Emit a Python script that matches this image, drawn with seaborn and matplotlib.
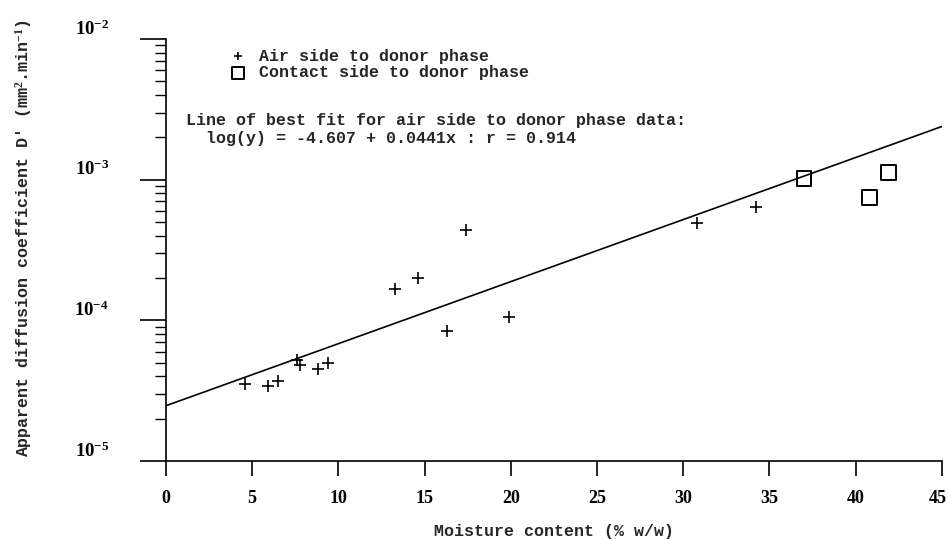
import numpy as np
import pandas as pd
import matplotlib
matplotlib.use("Agg")
import matplotlib.pyplot as plt
import matplotlib.transforms as mtransforms
from matplotlib.ticker import LogLocator, NullFormatter
import seaborn as sns

# ---- data ----
air_moisture = [4.6, 5.9, 6.5, 7.6, 7.8, 8.8, 9.4, 13.3, 14.6, 16.3, 17.4, 19.9, 30.8, 34.2]
air_diff = [3.5e-5, 3.4e-5, 3.7e-5, 5.2e-5, 4.85e-5, 4.5e-5, 5.0e-5, 1.67e-4, 2.0e-4,
            8.4e-5, 4.4e-4, 1.05e-4, 4.9e-4, 6.4e-4]
contact_moisture = [37.0, 40.8, 41.9]
contact_diff = [1.02e-3, 7.5e-4, 1.12e-3]

fit_intercept = -4.607
fit_slope = 0.0441
fit_x = [0, 45]

x_ticks = [0, 5, 10, 15, 20, 25, 30, 35, 40, 45]
y_ticks = [1e-5, 1e-4, 1e-3, 1e-2]
y_tick_labels = [r"$10^{-5}$", r"$10^{-4}$", r"$10^{-3}$", r"$10^{-2}$"]

legend_labels = ["Air side to donor phase", "Contact side to donor phase"]
fit_text = ("Line of best fit for air side to donor phase data:\n"
            "  log(y) = -4.607 + 0.0441x : r = 0.914")
x_label = "Moisture content (% w/w)"
y_label = "Apparent diffusion coefficient D' (mm$^{2}$.min$^{-1}$)"

# ---- style ----
sns.set_style("ticks")
plt.rcParams["font.family"] = ["Liberation Mono", "DejaVu Sans Mono"]
plt.rcParams["mathtext.fontset"] = "custom"
plt.rcParams["mathtext.rm"] = "Liberation Serif:bold"
plt.rcParams["mathtext.it"] = "Liberation Serif:bold"
plt.rcParams["mathtext.bf"] = "Liberation Serif:bold"

mono = {"family": ["Liberation Mono", "DejaVu Sans Mono"], "weight": "bold", "size": 12}

fig = plt.figure(figsize=(9.49, 5.4), dpi=100)
ax = fig.add_axes([0.1749, 0.1463, 0.8174, 0.7815])

air_df = pd.DataFrame({"m": air_moisture, "d": air_diff})
con_df = pd.DataFrame({"m": contact_moisture, "d": contact_diff})
fit_df = pd.DataFrame({"m": fit_x,
                       "d": [10 ** (fit_intercept + fit_slope * v) for v in fit_x]})

sns.lineplot(data=fit_df, x="m", y="d", ax=ax, color="black", linewidth=1.2)
sns.scatterplot(data=air_df, x="m", y="d", ax=ax, marker="+", s=65, color="black",
                linewidth=1.2, label=legend_labels[0])
sns.scatterplot(data=con_df, x="m", y="d", ax=ax, marker="s", s=110,
                facecolor="none", edgecolor="black", linewidth=1.4,
                label=legend_labels[1])

ax.set_yscale("log")
ax.set_xlim(0, 45)
ax.set_ylim(1e-5, 1e-2)
ax.set_xticks(x_ticks)
ax.set_xticklabels([str(t) for t in x_ticks],
                   fontdict={"family": "Liberation Serif", "weight": "bold", "size": 13})
ax.set_yticks(y_ticks, labels=y_tick_labels)
ax.yaxis.set_minor_locator(LogLocator(base=10, subs=np.arange(2, 10)))
ax.yaxis.set_minor_formatter(NullFormatter())
for lab in ax.get_yticklabels():
    lab.set_fontsize(13.5)

ax.tick_params(axis="y", which="major", direction="out", length=19, width=1.2,
               pad=22, colors="black")
ax.tick_params(axis="y", which="minor", direction="out", length=8, width=1.0,
               colors="black")
ax.tick_params(axis="x", which="major", direction="out", length=11, width=1.2,
               pad=10, colors="black")

offset = mtransforms.ScaledTranslation(0, 12 / 100, fig.dpi_scale_trans)
for lab in ax.get_yticklabels():
    lab.set_transform(lab.get_transform() + offset)
# the last x tick label sits slightly left of its tick, inside the figure
last_lab = ax.get_xticklabels()[-1]
last_lab.set_transform(last_lab.get_transform() +
                       mtransforms.ScaledTranslation(-4 / 100, 0, fig.dpi_scale_trans))

sns.despine(ax=ax, top=True, right=True)
for s in ["left", "bottom"]:
    ax.spines[s].set_linewidth(1.2)
    ax.spines[s].set_color("black")

ax.set_xlabel(x_label, fontdict=mono)
ax.set_ylabel(y_label, fontdict=mono)
ax.xaxis.label.set_va("center")
ax.yaxis.label.set_va("center")
ax.xaxis.set_label_coords(0.5, -0.168)
ax.yaxis.set_label_coords(-0.184, 0.528)

handles, labels = ax.get_legend_handles_labels()
leg = ax.legend(handles, labels, loc="upper left", bbox_to_anchor=(0.084, 0.977),
                frameon=False, prop=mono, handlelength=0.8, handletextpad=0.86,
                labelspacing=0.1, borderpad=0.0, borderaxespad=0.0, markerscale=0.8)

ax.text(0.0258, 0.7855, fit_text, transform=ax.transAxes, ha="left", va="center",
        fontdict=mono, linespacing=1.25)

fig.savefig("out.png", dpi=100)
